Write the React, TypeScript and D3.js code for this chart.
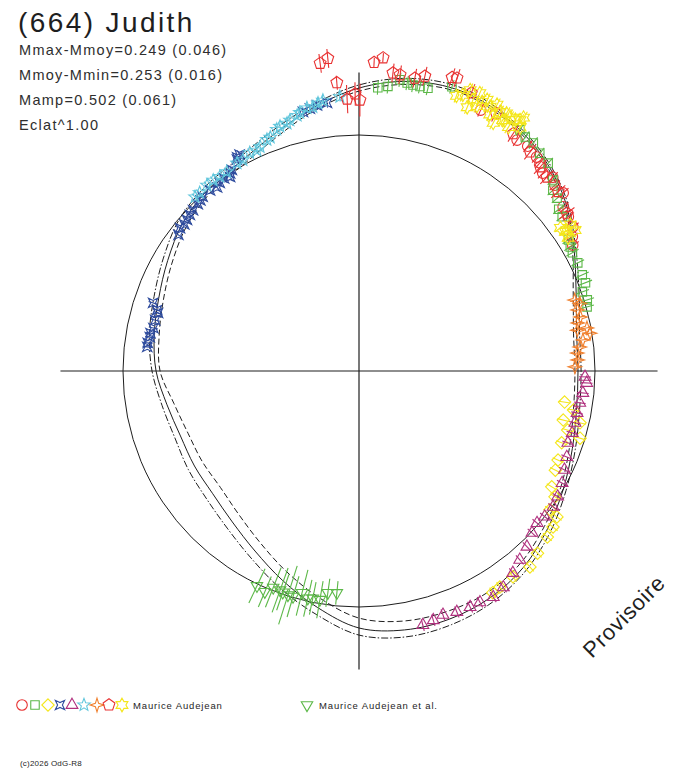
import * as d3 from 'd3';

// Polar lightcurve: angle = rotational phase (deg), radius relative to mean circle (= 1)
const WIDTH = 688;
const HEIGHT = 768;
const CX = 359;
const CY = 371;
const UNIT = 236;
const AXIS_EXT = 1.265;

const title = '(664) Judith';
const statLines = [
  'Mmax-Mmoy=0.249 (0.046)',
  'Mmoy-Mmin=0.253 (0.016)',
  'Mamp=0.502 (0.061)',
  'Eclat^1.00',
];
const observers = ['Maurice Audejean', 'Maurice Audejean et al.'];
const copyright = '(c)2026 OdG-R8';
const watermark = 'Provisoire';

// fitted curve and its envelope
const fitAngle = [0, 10, 20, 30, 40, 50, 60, 70, 80, 90, 100, 110, 120, 130, 140, 150, 160, 170,
  180, 190, 200, 210, 220, 230, 240, 250, 260, 270, 280, 290, 300, 310, 320, 330, 340, 350];
const fitMean = [0.928, 0.936, 0.979, 1.051, 1.136, 1.199, 1.242, 1.263, 1.246, 1.199, 1.131, 1.064,
  1.017, 1.0, 0.975, 0.936, 0.903, 0.881, 0.86, 0.826, 0.805, 0.805, 0.809, 0.835, 0.881, 0.945,
  1.017, 1.089, 1.114, 1.119, 1.11, 1.085, 1.042, 1.0, 0.962, 0.936];
const fitLow = [0.915, 0.923, 0.966, 1.043, 1.128, 1.191, 1.234, 1.255, 1.233, 1.186, 1.118, 1.047,
  1.0, 0.983, 0.954, 0.915, 0.882, 0.86, 0.843, 0.796, 0.771, 0.767, 0.767, 0.793, 0.839, 0.903,
  0.975, 1.047, 1.076, 1.085, 1.085, 1.064, 1.025, 0.987, 0.949, 0.923];
const fitHigh = [0.941, 0.949, 0.992, 1.059, 1.144, 1.207, 1.25, 1.276, 1.259, 1.212, 1.144, 1.081,
  1.034, 1.017, 0.996, 0.957, 0.924, 0.902, 0.877, 0.847, 0.83, 0.835, 0.843, 0.869, 0.915, 0.979,
  1.047, 1.119, 1.144, 1.144, 1.131, 1.102, 1.059, 1.013, 0.975, 0.949];

type Pt = [number, number, number?];

const ptsCircle: Pt[] = [
  [65, 1.22], [55.6, 1.186], [53.1, 1.191], [50.3, 1.178], [49, 1.169], [47.1, 1.144], [45, 1.161],
  [43.5, 1.144], [41.1, 1.148], [38.8, 1.11], [36.4, 1.102], [34, 1.093], [32.2, 1.068], [30.5, 1.051],
];
const ptsSquare: Pt[] = [
  [86.2, 1.203], [84.2, 1.212], [82, 1.246], [80.5, 1.237], [79.3, 1.233], [77.9, 1.233], [76.3, 1.233],
  [71.9, 1.267], [56.3, 1.229], [54.6, 1.216], [52.6, 1.216], [50.3, 1.199], [47.7, 1.191], [44.6, 1.153],
  [43, 1.123], [41.1, 1.114], [39, 1.089], [37.2, 1.081], [32, 1.047], [30.4, 1.038], [29, 1.034],
  [26.3, 1.034], [23.3, 1.03], [21.3, 1.03], [19.5, 1.004], [17.3, 1.013], [15.7, 1.004],
];
const ptsDiamond: Pt[] = [
  [351.4, 0.881], [349.7, 0.924], [346.8, 0.962], [346.5, 0.89], [344.2, 0.919], [343.1, 0.979],
  [340.5, 0.911], [335.9, 0.924], [333.2, 0.932], [329, 0.953], [327.3, 0.987], [324, 1.0],
  [323.6, 1.042], [321.2, 1.055], [318.6, 1.064], [314.4, 1.081], [311.1, 1.102], [306.8, 1.089],
  [303.1, 1.093], [301.1, 1.097],
];
const ptsCross: Pt[] = [
  [96.8, 1.144], [99, 1.14], [100.6, 1.131], [102.2, 1.123], [118.9, 1.047], [119.7, 1.042], [120, 1.034],
  [122.3, 1.008], [123.1, 1.0], [123.6, 0.987], [125, 0.996], [126.5, 0.992], [127.7, 0.983],
  [129.5, 0.992], [131.9, 0.992], [132.9, 0.987], [134, 0.983], [135.9, 0.979], [137.3, 0.975],
  [138.7, 0.97], [140, 0.966], [141.4, 0.97], [143, 0.958], [161.7, 0.919], [163.2, 0.894],
  [163.9, 0.886], [166, 0.89], [168.2, 0.89], [169.7, 0.898], [170.8, 0.898], [172.4, 0.903], [173.5, 0.903],
];
const ptsTriangle: Pt[] = [
  [358.5, 0.958], [357, 0.966], [354.4, 0.953], [351.8, 0.945], [349.1, 0.941], [346.5, 0.941],
  [343.8, 0.941], [341, 0.936], [337.5, 0.953], [334.3, 0.966], [331.1, 0.983], [327.7, 0.996],
  [325, 1.004], [321.9, 1.0], [319.5, 0.992], [316.9, 1.004], [313.7, 1.03], [310.4, 1.051],
  [307.3, 1.076], [303.7, 1.102], [300.7, 1.114], [297.6, 1.106], [295.2, 1.106], [292.1, 1.102],
  [289, 1.093], [286.6, 1.102], [284.1, 1.11],
];
const ptsStar5: Pt[] = [
  [94, 1.165], [97.6, 1.157], [98.7, 1.148], [99.9, 1.136], [101.2, 1.136], [102.9, 1.123], [103.6, 1.114],
  [105.4, 1.102], [106.2, 1.093], [107.9, 1.089], [108.8, 1.081], [110.8, 1.059], [111.7, 1.055],
  [113.8, 1.038], [114.8, 1.03], [116.6, 1.034], [118.8, 1.021], [120.4, 1.021], [123.6, 1.013],
  [125.6, 1.013], [127.4, 1.017], [129.3, 1.017], [131.8, 1.013], [133.3, 1.013],
];
const ptsStar4: Pt[] = [
  [1.1, 0.915], [2.9, 0.928], [4.7, 0.928], [6.2, 0.941], [7.9, 0.958], [9.3, 0.992], [10.6, 0.941],
  [10.7, 0.983], [12.4, 0.949], [13.7, 0.966], [15.6, 0.962], [17, 0.979], [18.2, 0.962],
];
const ptsPentagon: Pt[] = [
  [97.2, 1.314], [95.7, 1.331], [94.4, 1.225, 0.03], [92.5, 1.153, 0.06], [90.8, 1.174, 0.05],
  [89.8, 1.148, 0.07], [87.2, 1.309, 0.02], [85.6, 1.331, 0.02], [83.5, 1.271], [82.1, 1.267],
  [79.2, 1.263], [77.4, 1.28], [72.4, 1.305], [71.5, 1.309], [68, 1.271], [62, 1.237], [57, 1.199],
  [52, 1.178], [48.4, 1.157], [45.9, 1.144], [42, 1.136], [37.2, 1.106],
];
const ptsHexagram: Pt[] = [
  [70.5, 1.237], [69.4, 1.25], [68.4, 1.28], [67.7, 1.208], [67.2, 1.246], [66.5, 1.284], [66, 1.229],
  [65.4, 1.254], [64.7, 1.271], [63.6, 1.25], [63, 1.22], [62.6, 1.271], [61.6, 1.195], [61.4, 1.25],
  [60.2, 1.258], [60.2, 1.225], [59.8, 1.229], [59.2, 1.25], [58.5, 1.212], [58.1, 1.254], [57.3, 1.263],
  [57, 1.28], [56.5, 1.237], [35.4, 1.047], [34.7, 1.089], [34.1, 1.064], [34, 1.055], [33.1, 1.093],
  [32.5, 1.051],
];
const ptsTriangleDown: Pt[] = [
  [244.6, 1.008, 0.08], [246.9, 1.017, 0.07], [248.4, 0.987, 0.09], [250.2, 0.987, 0.1],
  [251, 0.992, 0.08], [252.4, 0.996, 0.13], [253.7, 0.996, 0.09], [255.6, 0.97, 0.1],
  [257.3, 0.987, 0.08], [258.5, 0.983, 0.07], [260.3, 0.983, 0.08], [262, 0.949, 0.06],
  [264.3, 0.945, 0.05],
];

// default half error bar per series (same order as the legend)
const errHalf = [0.03, 0.03, 0.025, 0.02, 0.025, 0.02, 0.02, 0.04, 0.03, 0.08];

const RED = '#e83232';
const GREEN = '#5cb848';
const YELLOW = '#f4e61a';
const BLUE = '#2f4c9e';
const MAGENTA = '#b0307e';
const CYAN = '#60c6dc';
const ORANGE = '#f0802e';
const INK = '#1e1e1e';

function polygonPath(n: number, rad: number, rot: number) {
  const pts = d3.range(n).map((i) => {
    const a = rot + (i * 2 * Math.PI) / n;
    return [rad * Math.sin(a), -rad * Math.cos(a)];
  });
  return 'M' + pts.map((p) => p.map((v) => v.toFixed(2)).join(',')).join('L') + 'Z';
}

function starPath(n: number, ro: number, ri: number, rot: number) {
  const pts = d3.range(n * 2).map((i) => {
    const a = rot + (i * Math.PI) / n;
    const rr = i % 2 === 0 ? ro : ri;
    return [rr * Math.sin(a), -rr * Math.cos(a)];
  });
  return 'M' + pts.map((p) => p.map((v) => v.toFixed(2)).join(',')).join('L') + 'Z';
}

const SHAPES: Record<string, string> = {
  circle: d3.symbol(d3.symbolCircle, 88)() as string,
  square: polygonPath(4, 6, Math.PI / 4),
  diamond: polygonPath(4, 6.2, 0),
  cross4: starPath(4, 6.6, 2.4, Math.PI / 4),
  triangle: polygonPath(3, 6.8, 0),
  star5: starPath(5, 6.6, 2.8, 0),
  star4: starPath(4, 6.8, 2.3, 0),
  pentagon: polygonPath(5, 6.2, 0),
  hexagram: starPath(6, 6.8, 3.9, 0),
  triangleDown: polygonPath(3, 6.6, Math.PI),
};

const series = [
  { shape: 'circle', color: RED, pts: ptsCircle },
  { shape: 'square', color: GREEN, pts: ptsSquare },
  { shape: 'diamond', color: YELLOW, pts: ptsDiamond },
  { shape: 'cross4', color: BLUE, pts: ptsCross },
  { shape: 'triangle', color: MAGENTA, pts: ptsTriangle },
  { shape: 'star5', color: CYAN, pts: ptsStar5 },
  { shape: 'star4', color: ORANGE, pts: ptsStar4 },
  { shape: 'pentagon', color: RED, pts: ptsPentagon },
  { shape: 'hexagram', color: YELLOW, pts: ptsHexagram },
  { shape: 'triangleDown', color: GREEN, pts: ptsTriangleDown },
].map((s, i) => ({ ...s, err: errHalf[i] }));

const FONT = 'Liberation Sans, Arial, Helvetica, sans-serif';

export default function App() {
  const r = d3.scaleLinear().domain([0, 1]).range([0, UNIT]);
  const ang = (deg: number) => ((90 - deg) * Math.PI) / 180;

  const radial = d3
    .lineRadial<[number, number]>()
    .angle((d) => ang(d[0]))
    .radius((d) => r(d[1]))
    .curve(d3.curveCatmullRomClosed.alpha(0.5));

  const meanPath = radial(fitAngle.map((a, i) => [a, fitMean[i]]));
  const lowPath = radial(fitAngle.map((a, i) => [a, fitLow[i]]));
  const highPath = radial(fitAngle.map((a, i) => [a, fitHigh[i]]));

  const ext = r(AXIS_EXT);
  const legendX = [22, 35, 48, 60, 72, 84, 97, 109, 122];

  return (
    <div style={{ position: 'absolute', left: 0, top: 0 }}>
      <svg width={WIDTH} height={HEIGHT} style={{ display: 'block', background: '#fff' }}>
        <text x={18} y={32} fontFamily={FONT} fontSize={28} letterSpacing={2.4} fill={INK}>
          {title}
        </text>
        {statLines.map((t, i) => (
          <text key={t} x={19} y={55 + i * 25} fontFamily={FONT} fontSize={14.5}
            letterSpacing={1.3} fill="#2e2e2e">
            {t}
          </text>
        ))}

        <g transform={`translate(${CX},${CY})`}>
          <circle r={r(1)} fill="none" stroke={INK} strokeWidth={1} />
          <line x1={-ext} x2={ext} y1={0} y2={0} stroke={INK} strokeWidth={1.2} />
          <line x1={0} x2={0} y1={-ext} y2={ext} stroke={INK} strokeWidth={1.2} />

          <path d={meanPath ?? ''} fill="none" stroke={INK} strokeWidth={1} />
          <path d={lowPath ?? ''} fill="none" stroke={INK} strokeWidth={1} strokeDasharray="6,3" />
          <path d={highPath ?? ''} fill="none" stroke={INK} strokeWidth={1} strokeDasharray="7,2,1.5,2" />

          {series.map((s, si) => (
            <g key={si} stroke={s.color} fill="none" strokeWidth={1.1}>
              {s.pts.map((p, pi) => {
                const e = p[2] ?? s.err;
                const [x0, y0] = d3.pointRadial(ang(p[0]), r(p[1] - e));
                const [x1, y1] = d3.pointRadial(ang(p[0]), r(p[1] + e));
                const [x, y] = d3.pointRadial(ang(p[0]), r(p[1]));
                return (
                  <g key={pi}>
                    <line x1={x0} y1={y0} x2={x1} y2={y1} />
                    <path d={SHAPES[s.shape]} transform={`translate(${x.toFixed(2)},${y.toFixed(2)})`} />
                  </g>
                );
              })}
            </g>
          ))}
        </g>

        <text transform="translate(592,659) rotate(-45)" fontFamily={FONT} fontSize={22}
          letterSpacing={0.8} fill={INK}>
          {watermark}
        </text>

        {series.slice(0, 9).map((s, i) => (
          <path key={i} d={SHAPES[s.shape]} transform={`translate(${legendX[i]},705)`}
            fill="none" stroke={s.color} strokeWidth={1.1} />
        ))}
        <text x={133} y={709} fontFamily={FONT} fontSize={9.5} letterSpacing={0.85} fill={INK}>
          {observers[0]}
        </text>
        <path d={SHAPES[series[9].shape]} transform="translate(307,705)" fill="none"
          stroke={series[9].color} strokeWidth={1.1} />
        <text x={319} y={709} fontFamily={FONT} fontSize={9.5} letterSpacing={0.85} fill={INK}>
          {observers[1]}
        </text>

        <text x={20} y={766} fontFamily={FONT} fontSize={8} letterSpacing={0.2} fill={INK}>
          {copyright}
        </text>
      </svg>
    </div>
  );
}
